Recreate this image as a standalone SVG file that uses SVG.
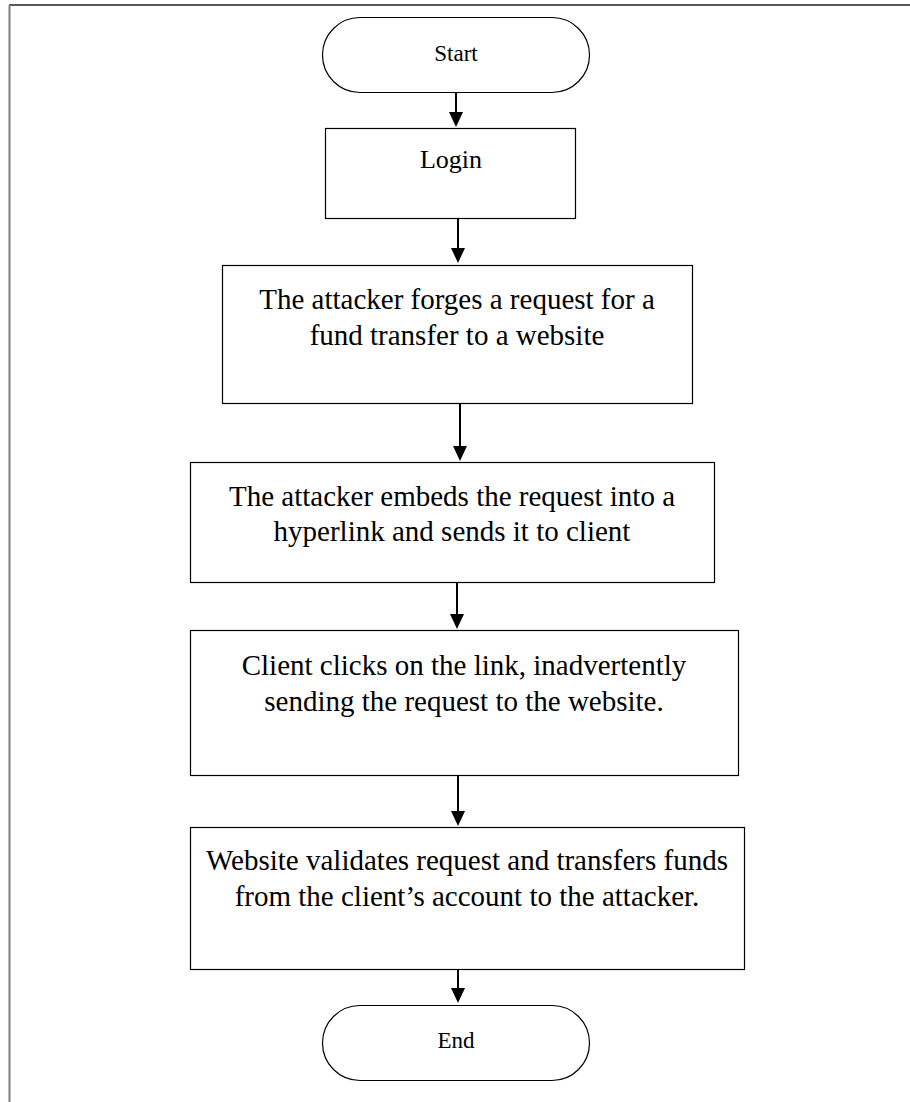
<svg xmlns="http://www.w3.org/2000/svg" width="910" height="1102" viewBox="0 0 910 1102">
<style>
.box{fill:#fff;stroke:#000;stroke-width:1.2}
.t{font-family:"Liberation Serif","Times New Roman",serif;fill:#000;text-anchor:middle}
.tb{font-size:29px}
.ts{font-size:23px}
.tl{font-size:26px}
.c{stroke:#000;stroke-width:2;fill:none}
</style>
<defs>
<marker id="ah" markerUnits="userSpaceOnUse" markerWidth="14" markerHeight="16" refX="7" refY="15" orient="auto-start-reverse" viewBox="0 0 14 16">
<path d="M0,0 L14,0 L7,15 Z" fill="#000" transform="rotate(0)"/>
</marker>
</defs>
<rect width="910" height="1102" fill="#fff"/>
<g id="frame">
<line x1="9" y1="5" x2="910" y2="5" stroke="#222" stroke-width="1.5"/>
<line x1="9.5" y1="5" x2="9.5" y2="1102" stroke="#808080" stroke-width="2"/>
</g>
<g id="connectors">
<line class="c" x1="456" y1="93" x2="456" y2="112"/><path d="M449,112 L463,112 L456,127 Z"/>
<line class="c" x1="458" y1="219" x2="458" y2="248"/><path d="M451,248 L465,248 L458,263 Z"/>
<line class="c" x1="460" y1="404" x2="460" y2="446"/><path d="M453,446 L467,446 L460,461 Z"/>
<line class="c" x1="457" y1="583" x2="457" y2="614"/><path d="M450,614 L464,614 L457,629 Z"/>
<line class="c" x1="458" y1="776" x2="458" y2="811"/><path d="M451,811 L465,811 L458,826 Z"/>
<line class="c" x1="458" y1="970" x2="458" y2="988"/><path d="M451,988 L465,988 L458,1003 Z"/>
</g>
<g id="start">
<rect class="box" x="322.5" y="17.5" width="267" height="75" rx="37.5" ry="37.5"/>
<text class="t ts" x="456" y="61">Start</text>
</g>
<g id="login">
<rect class="box" x="325.5" y="128.5" width="250" height="90"/>
<text class="t tl" x="451" y="168">Login</text>
</g>
<g id="forge">
<rect class="box" x="222.5" y="265.5" width="470" height="138"/>
<text class="t tb" x="457" y="309">The attacker forges a request for a</text>
<text class="t tb" x="457" y="345">fund transfer to a website</text>
</g>
<g id="embed">
<rect class="box" x="190.5" y="462.5" width="524" height="120"/>
<text class="t tb" x="452" y="506">The attacker embeds the request into a</text>
<text class="t tb" x="452" y="541">hyperlink and sends it to client</text>
</g>
<g id="click">
<rect class="box" x="190.5" y="630.5" width="548" height="145"/>
<text class="t tb" x="464" y="675">Client clicks on the link, inadvertently</text>
<text class="t tb" x="464" y="711">sending the request to the website.</text>
</g>
<g id="validate">
<rect class="box" x="190.5" y="827.5" width="554" height="142"/>
<text class="t tb" x="467" y="870">Website validates request and transfers funds</text>
<text class="t tb" x="467" y="906">from the client’s account to the attacker.</text>
</g>
<g id="end">
<rect class="box" x="322.5" y="1005.5" width="267" height="75" rx="37.5" ry="37.5"/>
<text class="t ts" x="456" y="1048">End</text>
</g>
</svg>
